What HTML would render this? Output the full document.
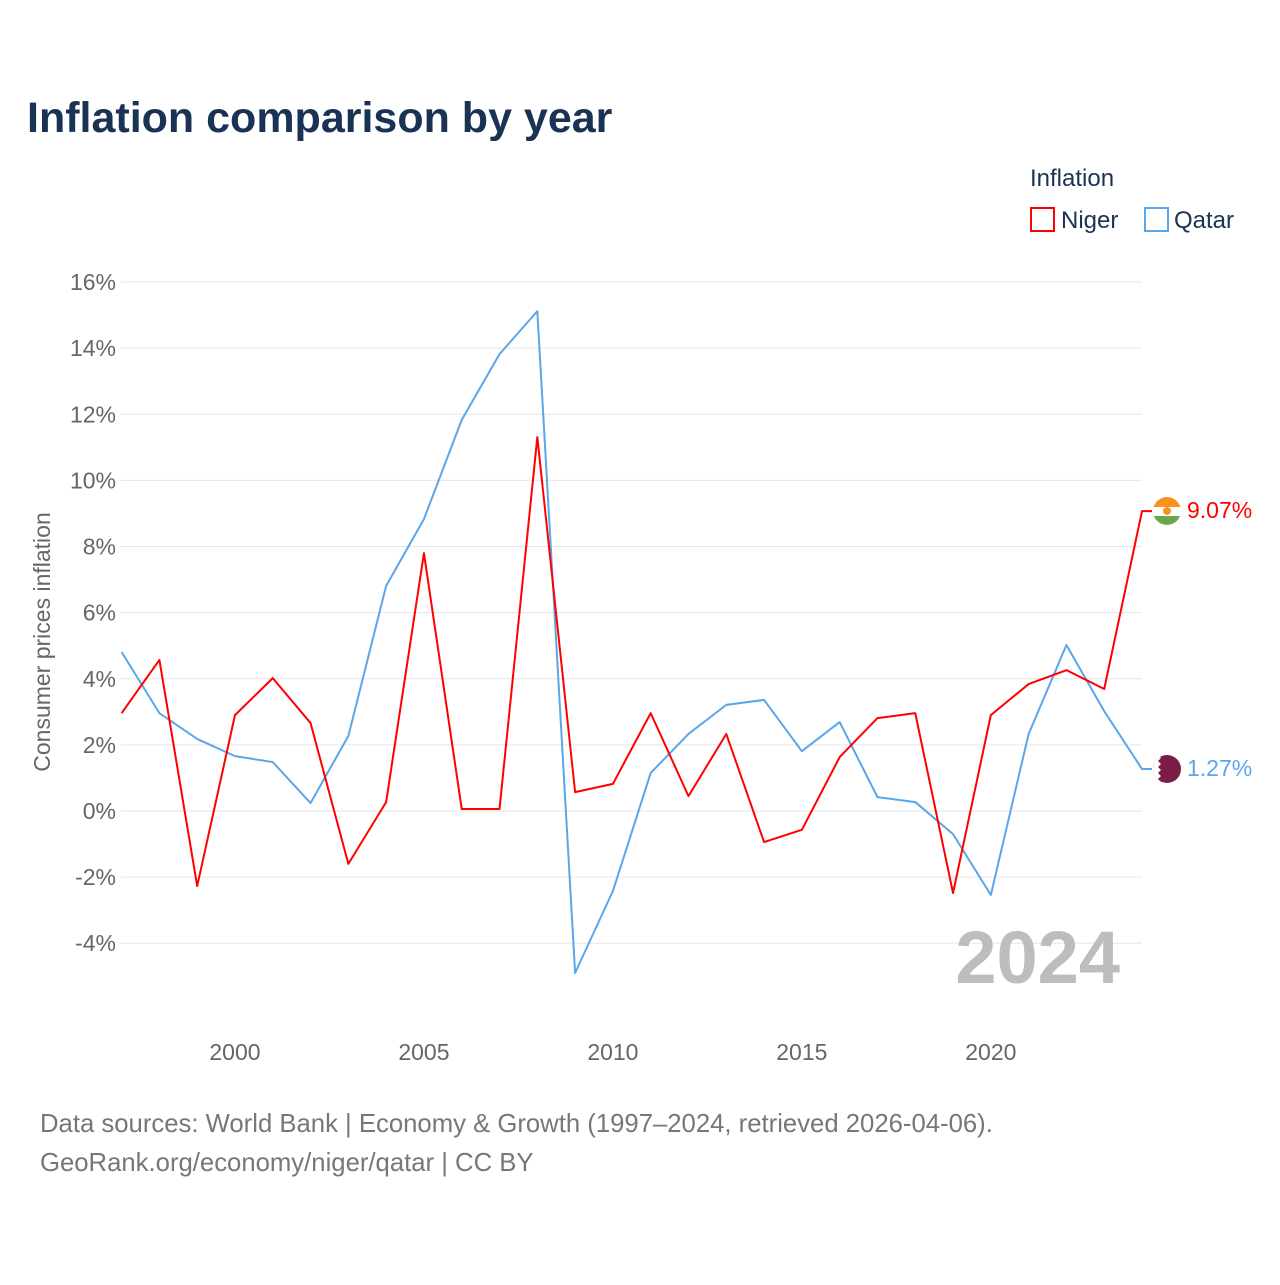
<!DOCTYPE html>
<html><head><meta charset="utf-8">
<style>
body{margin:0;background:#fff;font-family:"Liberation Sans",sans-serif;}
svg text{font-family:"Liberation Sans",sans-serif;}
</style></head>
<body>
<svg width="1280" height="1280">
<text x="27" y="132" font-size="43" font-weight="bold" fill="#1a3354">Inflation comparison by year</text>
<text x="1030" y="186" font-size="24" fill="#1a3354">Inflation</text>
<g><rect x="1031" y="208" width="23" height="23" fill="none" stroke="#f00" stroke-width="2"/><text x="1061" y="228" font-size="24" fill="#1a3354">Niger</text></g>
<g><rect x="1145" y="208" width="23" height="23" fill="none" stroke="#5aa6ea" stroke-width="2"/><text x="1174" y="228" font-size="24" fill="#1a3354">Qatar</text></g>
<g id="grid"></g><g id="yt"></g><g id="xt"></g>
<text transform="translate(50,642) rotate(-90)" text-anchor="middle" font-size="23" fill="#666">Consumer prices inflation</text>
<text x="1120" y="983" text-anchor="end" font-size="74" font-weight="bold" fill="#bdbdbd">2024</text>
<g id="lines"></g>
<g><clipPath id="c1"><circle cx="1167" cy="511" r="14"/></clipPath><g clip-path="url(#c1)"><rect x="1150" y="497" width="34" height="10" fill="#f7931e"/><rect x="1150" y="507" width="34" height="9" fill="#fff"/><rect x="1150" y="516" width="34" height="10" fill="#6aa84f"/><circle cx="1167" cy="511" r="4" fill="#f7931e"/></g></g>
<g><clipPath id="c2"><circle cx="1167" cy="769" r="14"/></clipPath><g clip-path="url(#c2)"><rect x="1150" y="755" width="34" height="28" fill="#7a1c45"/><polygon points="1150,755 1158,755 1161,758 1158,761 1161,764 1158,767 1161,770 1158,773 1161,776 1158,779 1161,782 1158,783 1150,783" fill="#fff"/></g></g>
<text x="1187" y="518" font-size="23" fill="#f00">9.07%</text>
<text x="1187" y="776" font-size="23" fill="#5aa6ea">1.27%</text>
<text x="40" y="1132" font-size="25.7" fill="#777">Data sources: World Bank | Economy &amp; Growth (1997–2024, retrieved 2026-04-06).</text>
<text x="40" y="1171" font-size="25.7" fill="#777">GeoRank.org/economy/niger/qatar | CC BY</text>
</svg>
<script>
const years=[1997,1998,1999,2000,2001,2002,2003,2004,2005,2006,2007,2008,2009,2010,2011,2012,2013,2014,2015,2016,2017,2018,2019,2020,2021,2022,2023,2024];
const niger=[2.96,4.57,-2.27,2.90,4.02,2.66,-1.60,0.27,7.80,0.06,0.06,11.31,0.57,0.82,2.96,0.45,2.33,-0.94,-0.57,1.63,2.81,2.96,-2.48,2.90,3.84,4.26,3.69,9.07];
const qatar=[4.81,2.96,2.18,1.66,1.48,0.24,2.27,6.81,8.83,11.83,13.82,15.12,-4.90,-2.42,1.15,2.33,3.21,3.36,1.81,2.69,0.42,0.27,-0.70,-2.54,2.33,5.02,3.02,1.27];
const yTicks=[-4,-2,0,2,4,6,8,10,12,14,16];
const xTicks=[2000,2005,2010,2015,2020];
const NS="http://www.w3.org/2000/svg";
const X=y=>121.6+(y-1997)*(1142-121.6)/27;
const Y=v=>811-v*33.06;
function mk(t,a,p){const e=document.createElementNS(NS,t);for(const k in a)e.setAttribute(k,a[k]);p.appendChild(e);return e;}
const grid=document.getElementById('grid'),yt=document.getElementById('yt'),xt=document.getElementById('xt'),lines=document.getElementById('lines');
yTicks.forEach(v=>{
 const l=mk('line',{x1:121,x2:1142,y1:Y(v),y2:Y(v),stroke:'#e6e6e6','stroke-width':1},grid);
 
 
 const t=mk('text',{x:116,y:Y(v)+8,'text-anchor':'end','font-size':23,fill:'#666'},yt);
 t.textContent=v+'%';
 
 
});
xTicks.forEach(v=>{
 const t=mk('text',{x:X(v),y:1060,'text-anchor':'middle','font-size':23,fill:'#666'},xt);
 t.textContent=v;
 
 
});
function series(d,c,name){
 const pts=d.map((v,i)=>X(years[i])+','+Y(v));
 const last=d[d.length-1];
 pts.push((X(years[years.length-1])+10)+','+Y(last));
 const p=mk('polyline',{points:pts.join(' '),fill:'none',stroke:c,'stroke-width':2,'stroke-linejoin':'round'},lines);
 
 
}
series(qatar,'#5aa6ea','qatar-line');
series(niger,'#f00','niger-line');
</script>
</body></html>
